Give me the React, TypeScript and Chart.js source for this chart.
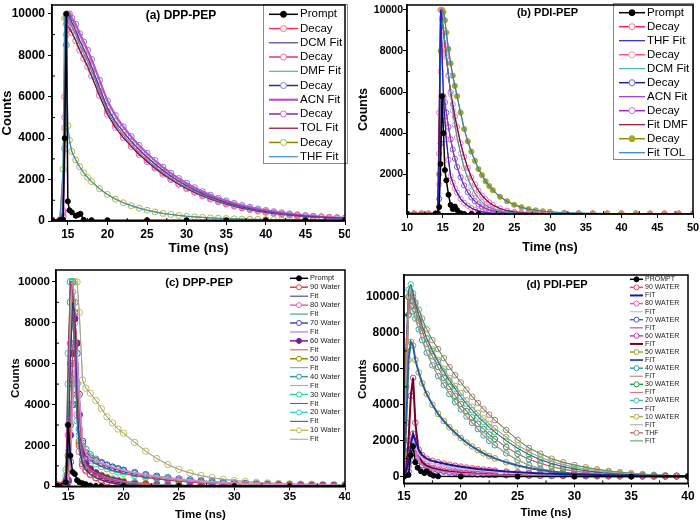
import React, { useEffect, useRef } from "react";
import { Chart, registerables } from "chart.js";

Chart.register(...registerables);
Chart.defaults.font.family = '"Liberation Sans", Arial, sans-serif';
Chart.defaults.color = "#000";

// ---------------- Panel (a) DPP-PEP, solvents ----------------
const timeA = [13, 14, 14.4, 14.6, 14.8, 15, 15.2, 15.5, 16, 16.5, 17, 17.5, 18, 19, 20, 21, 22, 23, 24, 25, 26, 27, 28, 29, 30, 31, 32, 33, 34, 35, 36, 37, 38, 39, 40, 41, 42, 43, 44, 45, 46, 47, 48, 49, 50];
const promptTimeA = [13, 14, 14.4, 14.6, 14.8, 15, 15.2, 15.5, 16, 16.3, 16.6, 17, 18, 20, 25, 30, 35, 40, 45, 50];
const promptA = [40, 40, 60, 4000, 10000, 950, 520, 420, 250, 300, 350, 60, 40, 40, 40, 40, 40, 40, 40, 40];
const dcmA = [50, 50, 300, 4500, 9000, 10000, 9900, 9600, 9200, 8700, 8300, 7900, 7450, 6450, 5450, 4800, 4300, 3850, 3450, 3080, 2750, 2450, 2170, 1920, 1700, 1500, 1320, 1160, 1020, 890, 780, 680, 600, 520, 460, 400, 350, 310, 270, 240, 210, 185, 165, 150, 135];
const dmfA = [50, 50, 500, 6000, 9800, 9900, 9700, 9400, 9000, 8500, 8100, 7700, 7250, 6250, 5300, 4650, 4150, 3700, 3300, 2950, 2620, 2330, 2060, 1820, 1610, 1420, 1250, 1100, 960, 840, 740, 650, 570, 500, 440, 385, 340, 300, 260, 230, 200, 180, 160, 145, 130];
const acnA = [50, 50, 200, 3500, 8500, 9900, 10000, 9800, 9500, 9050, 8650, 8250, 7800, 6800, 5800, 5100, 4550, 4080, 3650, 3270, 2920, 2600, 2310, 2050, 1820, 1610, 1420, 1250, 1100, 970, 850, 750, 660, 580, 510, 450, 395, 345, 300, 265, 235, 205, 180, 160, 145];
const tolA = [50, 50, 400, 5000, 9500, 9400, 9300, 9100, 8700, 8250, 7850, 7450, 7000, 6050, 5150, 4520, 4030, 3600, 3210, 2870, 2550, 2260, 2000, 1770, 1560, 1380, 1210, 1060, 930, 815, 715, 625, 550, 480, 420, 370, 325, 285, 250, 220, 195, 172, 152, 136, 122];
const thfA = [50, 50, 2500, 9800, 10000, 4600, 3900, 3350, 2950, 2620, 2330, 2100, 1900, 1560, 1280, 1060, 880, 740, 620, 520, 440, 370, 315, 270, 230, 200, 175, 152, 133, 117, 104, 93, 84, 77, 71, 66, 62, 58, 55, 52, 50, 48, 46, 44, 42];
const xTicksA = [15, 20, 25, 30, 35, 40, 45, 50];
const xMinorA = [17.5, 22.5, 27.5, 32.5, 37.5, 42.5, 47.5];
const yTicksA = [0, 2000, 4000, 6000, 8000, 10000];
const yMinorA = [1000, 3000, 5000, 7000, 9000];

// ---------------- Panel (b) PDI-PEP, solvents ----------------
const timeB = [10, 11, 12, 13, 14, 14.3, 14.5, 14.7, 14.9, 15.1, 15.3, 15.5, 15.8, 16.1, 16.4, 16.7, 17, 17.5, 18, 18.5, 19, 19.5, 20, 20.5, 21, 21.5, 22, 23, 24, 25, 26, 27, 28, 29, 30, 32, 34, 36, 38, 40, 42, 44, 46, 48, 50];
const promptTimeB = [10, 14, 14.3, 14.5, 14.7, 14.9, 15.1, 15.3, 15.5, 15.8, 16.1, 16.4, 16.7, 17, 17.5, 18, 19, 20];
const promptB = [80, 80, 80, 400, 2500, 5800, 4000, 2200, 1700, 1000, 500, 300, 420, 250, 100, 60, 60, 60];
const thfB = [80, 80, 80, 80, 80, 100, 3000, 10000, 8000, 5700, 4600, 3700, 2700, 1900, 1600, 1300, 1100, 800, 600, 460, 350, 270, 210, 165, 135, 115, 100, 90, 85, 82, 80, 80, 80, 80, 80, 80, 80, 80, 80, 80, 80, 80, 80, 80, 80];
const dcmB = [80, 80, 80, 80, 80, 100, 1500, 7000, 9500, 9000, 8400, 7800, 6800, 5900, 5100, 4400, 3800, 3000, 2300, 1800, 1400, 1080, 830, 640, 500, 390, 310, 200, 140, 110, 95, 88, 84, 82, 80, 80, 80, 80, 80, 80, 80, 80, 80, 80, 80];
const acnB = [80, 80, 80, 80, 80, 100, 800, 3500, 5600, 5800, 5500, 5000, 4300, 3700, 3200, 2750, 2350, 1850, 1450, 1120, 870, 680, 530, 420, 330, 260, 210, 150, 115, 95, 86, 82, 80, 80, 80, 80, 80, 80, 80, 80, 80, 80, 80, 80, 80];
const dmfB = [80, 80, 80, 80, 80, 150, 5000, 10000, 9600, 9000, 8300, 7700, 6800, 6000, 5400, 4800, 4300, 3500, 2850, 2300, 1850, 1500, 1200, 960, 770, 620, 500, 330, 220, 160, 125, 105, 95, 88, 85, 82, 80, 80, 80, 80, 80, 80, 80, 80, 80];
const tolB = [80, 80, 80, 80, 80, 100, 2000, 8000, 10000, 9900, 9500, 8900, 8100, 7400, 6800, 6300, 5800, 5000, 4200, 3600, 3100, 2650, 2250, 1950, 1650, 1420, 1220, 900, 680, 510, 390, 300, 240, 195, 160, 120, 100, 90, 85, 80, 80, 80, 80, 80, 80];
const xTicksB = [10, 15, 20, 25, 30, 35, 40, 45, 50];
const xMinorB = [12.5, 17.5, 22.5, 27.5, 32.5, 37.5, 42.5, 47.5];
const yTicksB = [2000, 4000, 6000, 8000, 10000];
const yMinorB = [1000, 3000, 5000, 7000, 9000];

// ---------------- Panel (c) DPP-PEP, water fractions ----------------
const timeC = [14, 14.5, 14.8, 15, 15.2, 15.4, 15.6, 15.8, 16, 16.3, 16.6, 17, 17.5, 18, 18.5, 19, 19.5, 20, 21, 22, 23, 24, 25, 26, 27, 28, 29, 30, 31, 32, 33, 34, 35, 36, 37, 38, 39, 40];
const promptTimeC = [14, 14.8, 15, 15.2, 15.4, 15.6, 15.8, 16, 16.3, 16.6, 17, 17.5, 18, 20, 25, 30, 35, 40];
const promptC = [30, 200, 3000, 1500, 700, 600, 300, 200, 150, 100, 40, 20, 10, 10, 10, 10, 10, 10];
const w90C = [40, 40, 200, 1500, 6000, 9000, 8500, 4500, 2000, 1100, 800, 600, 430, 310, 220, 160, 115, 85, 50, 30, 20, 20, 20, 20, 20, 20, 20, 20, 20, 20, 20, 20, 20, 20, 20, 20, 20, 20];
const w80C = [40, 40, 300, 2500, 7000, 8000, 7000, 3500, 1700, 1000, 750, 560, 400, 290, 210, 150, 110, 80, 45, 28, 20, 20, 20, 20, 20, 20, 20, 20, 20, 20, 20, 20, 20, 20, 20, 20, 20, 20];
const w70C = [40, 40, 50, 200, 1200, 4000, 6000, 6500, 4500, 2200, 1600, 1380, 1250, 1130, 1030, 940, 860, 790, 670, 570, 490, 420, 360, 310, 265, 225, 195, 165, 140, 120, 103, 88, 76, 65, 56, 49, 43, 38];
const w60C = [40, 40, 60, 300, 2500, 6500, 8200, 7000, 3500, 1600, 1100, 850, 650, 500, 390, 300, 240, 190, 120, 80, 55, 40, 30, 30, 30, 30, 30, 30, 30, 30, 30, 30, 30, 30, 30, 30, 30, 30];
const w50C = [40, 40, 100, 800, 3000, 5000, 5500, 4000, 2200, 1300, 1000, 820, 660, 540, 440, 360, 300, 250, 180, 130, 95, 70, 55, 45, 40, 40, 40, 40, 40, 40, 40, 40, 40, 40, 40, 40, 40, 40];
const w40C = [60, 60, 300, 3000, 9000, 10000, 9000, 5000, 2800, 2100, 1800, 1550, 1330, 1170, 1040, 930, 840, 760, 630, 520, 430, 355, 290, 240, 195, 160, 130, 105, 85, 70, 58, 48, 42, 37, 33, 30, 28, 26];
const w30C = [60, 60, 800, 6500, 10000, 9500, 6500, 3200, 2100, 1650, 1450, 1280, 1100, 970, 860, 770, 700, 630, 520, 430, 360, 300, 250, 205, 170, 140, 115, 95, 78, 65, 55, 47, 40, 35, 31, 28, 26, 25];
const w20C = [60, 60, 500, 5000, 10000, 10000, 8000, 4000, 2500, 1900, 1650, 1450, 1250, 1100, 980, 880, 800, 720, 600, 500, 420, 350, 290, 240, 200, 165, 135, 110, 90, 75, 62, 52, 45, 40, 35, 32, 30, 28];
const w10C = [80, 80, 150, 1000, 7000, 10000, 10000, 10000, 8500, 5200, 4800, 4550, 4200, 3800, 3400, 3100, 2800, 2600, 2150, 1720, 1360, 1060, 830, 650, 520, 420, 340, 280, 235, 195, 165, 140, 125, 110, 100, 90, 85, 80];
const xTicksC = [15, 20, 25, 30, 35, 40];
const xMinorC = [17.5, 22.5, 27.5, 32.5, 37.5];
const yTicksC = [0, 2000, 4000, 6000, 8000, 10000];
const yMinorC = [1000, 3000, 5000, 7000, 9000];

// ---------------- Panel (d) PDI-PEP, water fractions ----------------
const timeD = [15, 15.2, 15.4, 15.6, 15.8, 16, 16.3, 16.6, 17, 17.5, 18, 18.5, 19, 19.5, 20, 20.5, 21, 21.5, 22, 22.5, 23, 24, 25, 26, 27, 28, 29, 30, 31, 32, 33, 34, 35, 36, 37, 38, 39, 40];
const promptTimeD = [15, 15.4, 15.6, 15.8, 16, 16.2, 16.5, 16.8, 17, 17.3, 17.6, 18, 20, 25, 30, 35, 40];
const promptD = [0, 100, 1200, 1700, 800, 500, 300, 200, 300, 150, 60, 20, 10, 5, 5, 5, 5];
const w90D = [100, 300, 800, 1800, 2400, 2000, 1500, 1200, 1000, 880, 800, 730, 670, 610, 560, 510, 470, 430, 400, 370, 340, 290, 250, 215, 185, 160, 140, 120, 105, 92, 80, 70, 62, 55, 50, 45, 42, 40];
const w80D = [80, 200, 600, 1500, 2100, 1700, 1250, 1000, 850, 740, 660, 600, 550, 500, 460, 420, 385, 355, 325, 300, 275, 235, 200, 170, 145, 125, 108, 93, 80, 70, 62, 55, 49, 44, 40, 37, 35, 33];
const w70D = [50, 100, 300, 900, 1500, 1300, 900, 650, 500, 400, 330, 280, 240, 210, 185, 165, 150, 135, 120, 110, 100, 85, 72, 62, 54, 48, 42, 38, 34, 31, 28, 26, 24, 22, 21, 20, 19, 18];
const w60D = [100, 500, 2000, 4500, 5500, 3000, 1300, 800, 600, 470, 390, 330, 285, 250, 220, 195, 175, 155, 140, 125, 113, 92, 76, 63, 53, 45, 39, 34, 30, 27, 25, 23, 21, 20, 19, 18, 17, 16];
const w50D = [500, 3000, 6500, 7500, 7300, 6500, 5800, 5200, 4600, 4000, 3500, 3100, 2750, 2450, 2150, 1900, 1680, 1480, 1300, 1150, 1020, 800, 620, 480, 370, 285, 220, 170, 130, 100, 78, 60, 47, 37, 30, 25, 22, 20];
const w40D = [1500, 6000, 9000, 9500, 9200, 8800, 8200, 7600, 6900, 6200, 5600, 5100, 4600, 4150, 3750, 3350, 3000, 2650, 2300, 2000, 1750, 1300, 920, 650, 450, 310, 210, 145, 100, 70, 50, 38, 30, 25, 22, 20, 18, 16];
const w30D = [2000, 7000, 10000, 10200, 9800, 9300, 8700, 8100, 7400, 6700, 6100, 5500, 5000, 4500, 4050, 3650, 3300, 2950, 2650, 2350, 2100, 1650, 1270, 970, 740, 560, 420, 310, 230, 170, 125, 92, 68, 52, 42, 35, 30, 27];
const w20D = [2500, 7500, 10400, 10700, 10200, 9600, 9000, 8400, 7700, 7000, 6400, 5850, 5350, 4900, 4450, 4050, 3700, 3350, 3050, 2750, 2480, 2000, 1580, 1230, 950, 730, 560, 430, 330, 250, 190, 145, 110, 85, 68, 55, 45, 38];
const w10D = [2000, 7000, 10000, 10300, 9700, 9300, 8800, 8300, 7700, 7100, 6500, 6000, 5500, 5050, 4650, 4250, 3900, 3550, 3250, 2950, 2700, 2200, 1750, 1380, 1080, 850, 670, 530, 420, 330, 260, 200, 155, 120, 90, 70, 55, 45];
const thfD = [1000, 5000, 9000, 10300, 10000, 9700, 9300, 8800, 8200, 7600, 7100, 6600, 6100, 5650, 5250, 4850, 4450, 4100, 3750, 3450, 3150, 2600, 2050, 1600, 1280, 1000, 800, 650, 520, 410, 320, 250, 190, 140, 105, 80, 60, 45];
const xTicksD = [15, 20, 25, 30, 35, 40];
const xMinorD = [17.5, 22.5, 27.5, 32.5, 37.5];
const yTicksD = [0, 2000, 4000, 6000, 8000, 10000];
const yMinorD = [1000, 3000, 5000, 7000, 9000];

// ---------------- helpers ----------------
const pts = (t: number[], v: number[]) => t.map((x, i) => ({ x, y: v[i] }));

function prompt(label: string, t: number[], v: number[], r: number) {
  return {
    label, kind: "filled", data: pts(t, v), borderColor: "#000", borderWidth: 1.5,
    pointRadius: r, pointBorderColor: "#000", pointBackgroundColor: "#000", pointBorderWidth: 1, order: 0,
  };
}
function decay(label: string, t: number[], v: number[], line: string, mark: string, r: number, filled = false) {
  return {
    label, kind: filled ? "filled" : "decay", data: pts(t, v), borderColor: line, borderWidth: 1,
    pointRadius: r, pointBorderColor: mark, pointBackgroundColor: filled ? mark : "rgba(255,255,255,0)",
    pointBorderWidth: 1, order: 2,
  };
}
function fit(label: string, t: number[], v: number[], color: string, w: number) {
  return { label, kind: "fit", data: pts(t, v), borderColor: color, borderWidth: w, pointRadius: 0, order: 1 };
}

const decorPlugin = {
  id: "decor",
  afterDraw(chart: any, _args: any, opts: any) {
    const { ctx, chartArea: a } = chart;
    const xs = chart.scales.x;
    const ys = chart.scales.y;
    ctx.save();
    // inward minor ticks
    ctx.strokeStyle = "#000";
    ctx.lineWidth = 1;
    ctx.beginPath();
    for (const v of opts.minorX) {
      const p = xs.getPixelForValue(v);
      ctx.moveTo(p, a.bottom);
      ctx.lineTo(p, a.bottom - 3);
    }
    for (const v of opts.minorY) {
      const p = ys.getPixelForValue(v);
      ctx.moveTo(a.left, p);
      ctx.lineTo(a.left + 3, p);
    }
    ctx.stroke();
    // legend
    const L = opts.legend;
    if (L.box) {
      const [bx, by, bw, bh] = L.box;
      ctx.fillStyle = "#fff";
      ctx.fillRect(bx, by, bw, bh);
      ctx.strokeStyle = "#8a8a8a";
      ctx.lineWidth = 1;
      ctx.strokeRect(bx + 0.5, by + 0.5, bw, bh);
    }
    ctx.font = L.font;
    ctx.textBaseline = "middle";
    ctx.textAlign = "left";
    chart.data.datasets.forEach((ds: any, i: number) => {
      const y = L.y0 + i * L.dy;
      ctx.strokeStyle = ds.borderColor;
      ctx.lineWidth = ds.kind === "fit" ? ds.borderWidth : 1.5;
      ctx.beginPath();
      ctx.moveTo(L.x1, y);
      ctx.lineTo(L.x2, y);
      ctx.stroke();
      if (ds.kind !== "fit") {
        const cx = (L.x1 + L.x2) / 2;
        ctx.beginPath();
        ctx.arc(cx, y, L.r, 0, Math.PI * 2);
        ctx.fillStyle = ds.kind === "filled" ? ds.pointBackgroundColor : "#fff";
        ctx.fill();
        ctx.lineWidth = 1;
        ctx.strokeStyle = ds.pointBorderColor;
        ctx.stroke();
      }
      ctx.fillStyle = L.color || "#000";
      ctx.fillText(ds.label, L.tx, y);
    });
    // frame
    ctx.strokeStyle = "#000";
    ctx.lineWidth = 1.5;
    ctx.strokeRect(a.left, a.top, a.right - a.left, a.bottom - a.top);
    // panel title
    ctx.font = opts.titleFont;
    ctx.textAlign = "center";
    ctx.textBaseline = "middle";
    ctx.fillStyle = "#000";
    ctx.fillText(opts.title, opts.titleX, opts.titleY);
    ctx.restore();
  },
};

function makeConfig(p: any) {
  return {
    type: "line",
    data: { datasets: p.datasets },
    options: {
      responsive: false,
      animation: false,
      events: [],
      layout: { padding: p.padding },
      plugins: { legend: { display: false }, tooltip: { enabled: false }, decor: p.decor },
      scales: {
        x: {
          type: "linear",
          min: p.x.min,
          max: p.x.max,
          afterBuildTicks: (s: any) => { s.ticks = p.x.ticks.map((v: number) => ({ value: v })); },
          afterFit: (s: any) => { s.height = p.x.size; s.paddingLeft = 0; s.paddingRight = 0; },
          grid: { drawOnChartArea: false, tickLength: 4, tickColor: "#000", tickWidth: 1 },
          border: { color: "#000", width: 1.5 },
          ticks: {
            autoSkip: false, maxRotation: 0, minRotation: 0, padding: p.x.pad, color: "#000",
            font: { size: p.x.font, weight: "bold" }, callback: (v: any) => String(v),
          },
          title: {
            display: true, text: "Time (ns)", color: "#000",
            font: { size: p.x.title, weight: "bold" }, padding: { top: 0, bottom: 0 },
          },
        },
        y: {
          type: "linear",
          min: p.y.min,
          max: p.y.max,
          afterBuildTicks: (s: any) => { s.ticks = p.y.ticks.map((v: number) => ({ value: v })); },
          afterFit: (s: any) => { s.width = p.y.size; s.paddingTop = 0; s.paddingBottom = 0; },
          grid: { drawOnChartArea: false, tickLength: 4, tickColor: "#000", tickWidth: 1 },
          border: { color: "#000", width: 1.5 },
          ticks: {
            autoSkip: false, padding: p.y.pad, color: "#000",
            font: { size: p.y.font, weight: "bold" }, callback: (v: any) => String(v),
          },
          title: {
            display: true, text: "Counts", color: "#000",
            font: { size: p.y.title, weight: "bold" }, padding: { top: 0, bottom: 0 },
          },
        },
      },
    },
    plugins: [decorPlugin],
  };
}

const FONT = '"Liberation Sans", Arial, sans-serif';

const panelA = () => makeConfig({
  datasets: [
    prompt("Prompt", promptTimeA, promptA, 2.5),
    decay("Decay", timeA, dcmA, "#ff2a55", "#ff6f94", 3),
    fit("DCM Fit", timeA, dcmA, "#4a3fa0", 1.2),
    decay("Decay", timeA, dmfA, "#e8307a", "#f06aa6", 3),
    fit("DMF Fit", timeA, dmfA, "#2aa5a5", 1),
    decay("Decay", timeA, acnA, "#2b2f8f", "#7b7fcf", 3),
    fit("ACN Fit", timeA, acnA, "#b455d0", 2.2),
    decay("Decay", timeA, tolA, "#9a1fb8", "#c070d8", 3),
    fit("TOL Fit", timeA, tolA, "#8c0d3a", 1.2),
    decay("Decay", timeA, thfA, "#8a8a00", "#b5b540", 3),
    fit("THF Fit", timeA, thfA, "#3b8fc0", 1.2),
  ],
  padding: { left: 0, right: 3, top: 1, bottom: 4 },
  x: { min: 13, max: 50, ticks: xTicksA, size: 35, pad: 2, font: 12, title: 13.5 },
  y: { min: 0, max: 10430, ticks: yTicksA, size: 52, pad: 3, font: 12, title: 13 },
  decor: {
    minorX: xMinorA, minorY: yMinorA,
    title: "(a) DPP-PEP", titleX: 181, titleY: 16, titleFont: `bold 12px ${FONT}`,
    legend: { box: [263, 4, 84, 159], x1: 269, x2: 298, tx: 300, y0: 14.3, dy: 14.24, r: 3, font: `11.5px ${FONT}` },
  },
});

const panelB = () => makeConfig({
  datasets: [
    prompt("Prompt", promptTimeB, promptB, 2.5),
    decay("Decay", timeB, thfB, "#ff2050", "#ff6f90", 2.6),
    fit("THF Fit", timeB, thfB, "#2020c8", 1.2),
    decay("Decay", timeB, dcmB, "#ff4f8a", "#ff8fb5", 2.6),
    fit("DCM Fit", timeB, dcmB, "#1fa0a8", 1),
    decay("Decay", timeB, acnB, "#23238a", "#6a6ac8", 2.6),
    fit("ACN Fit", timeB, acnB, "#9b2fc8", 1.2),
    decay("Decay", timeB, dmfB, "#a02ac0", "#c77ade", 2.6),
    fit("Fit DMF", timeB, dmfB, "#8a0a30", 1.2),
    decay("Decay", timeB, tolB, "#8c8c00", "#a8a820", 2.6, true),
    fit("Fit TOL", timeB, tolB, "#2f7fbf", 1.2),
  ],
  padding: { left: 6.5, right: 7, top: 1, bottom: 4.5 },
  x: { min: 10, max: 50, ticks: xTicksB, size: 41.5, pad: 3.7, font: 11, title: 12.5 },
  y: { min: 60, max: 10240, ticks: yTicksB, size: 50.5, pad: 0, font: 10.5, title: 12.5 },
  decor: {
    minorX: xMinorB, minorY: yMinorB,
    title: "(b) PDI-PEP", titleX: 197.5, titleY: 12.7, titleFont: `bold 11px ${FONT}`,
    legend: { box: [263, 3, 80, 156], x1: 269, x2: 295, tx: 297, y0: 12.7, dy: 14.0, r: 3, font: `11.5px ${FONT}` },
  },
});

const panelC = () => makeConfig({
  datasets: [
    prompt("Prompt", promptTimeC, promptC, 2.5),
    decay("90 Water", timeC, w90C, "#e8403c", "#e8403c", 3.2),
    fit("Fit", timeC, w90C, "#2e2e8e", 1),
    decay("80 Water", timeC, w80C, "#e066b8", "#e066b8", 3.2),
    fit("Fit", timeC, w80C, "#2a9080", 1),
    decay("70 Water", timeC, w70C, "#4a4ab8", "#4a4ab8", 3.2),
    fit("Fit", timeC, w70C, "#d88ad8", 1.5),
    decay("60 Water", timeC, w60C, "#7a1a9a", "#7a1a9a", 3.2, true),
    fit("Fit", timeC, w60C, "#c05050", 1),
    decay("50 Water", timeC, w50C, "#8e8e00", "#8e8e00", 3.2),
    fit("Fit", timeC, w50C, "#6a9ac0", 1),
    decay("40 Water", timeC, w40C, "#30a0a0", "#30a0a0", 3.2),
    fit("Fit", timeC, w40C, "#c8a070", 1),
    decay("30 Water", timeC, w30C, "#28d8a0", "#28d8a0", 3.2),
    fit("Fit", timeC, w30C, "#c02878", 1),
    decay("20 Water", timeC, w20C, "#38d0c8", "#38d0c8", 3.2),
    fit("Fit", timeC, w20C, "#40409a", 1),
    decay("10 Water", timeC, w10C, "#c0c050", "#c0c050", 3.2),
    fit("Fit", timeC, w10C, "#a0a0a0", 1),
  ],
  padding: { left: 8.8, right: 5, top: 10, bottom: 0.1 },
  x: { min: 13.9, max: 40, ticks: xTicksC, size: 35.6, pad: 0, font: 11.5, title: 11.5 },
  y: { min: 0, max: 10580, ticks: yTicksC, size: 47.2, pad: 2, font: 11.5, title: 11.5 },
  decor: {
    minorX: xMinorC, minorY: yMinorC,
    title: "(c) DPP-PEP", titleX: 199, titleY: 23.3, titleFont: `bold 11.5px ${FONT}`,
    legend: { box: null, x1: 290, x2: 308, tx: 310, y0: 18.3, dy: 8.94, r: 2.5, font: `7.5px ${FONT}`, color: "#222" },
  },
});

const panelD = () => makeConfig({
  datasets: [
    prompt("PROMPT", promptTimeD, promptD, 2.5),
    decay("90 WATER", timeD, w90D, "#e84a6a", "#e84a6a", 2.8),
    fit("FIT", timeD, w90D, "#1a1aa0", 2),
    decay("80 WATER", timeD, w80D, "#e060a8", "#e060a8", 2.8),
    fit("FIT", timeD, w80D, "#c8c8ee", 1.5),
    decay("70 WATER", timeD, w70D, "#5a5ab8", "#5a5ab8", 2.8),
    fit("FIT", timeD, w70D, "#d070d0", 1.5),
    decay("60 WATER", timeD, w60D, "#c040b8", "#c040b8", 2.8),
    fit("FIT", timeD, w60D, "#7a0020", 2),
    decay("50 WATER", timeD, w50D, "#a0a030", "#a0a030", 2.8),
    fit("FIT", timeD, w50D, "#2a60a0", 2),
    decay("40 WATER", timeD, w40D, "#30a0a8", "#30a0a8", 2.8),
    fit("FIT", timeD, w40D, "#c09080", 1.2),
    decay("30 WATER", timeD, w30D, "#20a048", "#20a048", 2.8),
    fit("FIT", timeD, w30D, "#e06080", 1),
    decay("20 WATER", timeD, w20D, "#40c0a0", "#40c0a0", 2.8),
    fit("FIT", timeD, w20D, "#50508a", 1),
    decay("10 WATER", timeD, w10D, "#b0b040", "#b0b040", 2.8),
    fit("FIT", timeD, w10D, "#a8a8a8", 1),
    decay("THF", timeD, thfD, "#c07878", "#c07878", 2.8),
    fit("FIT", timeD, thfD, "#40a060", 1),
  ],
  padding: { left: 6.4, right: 12, top: 15, bottom: 2.1 },
  x: { min: 15, max: 40, ticks: xTicksD, size: 36.6, pad: 2.2, font: 12, title: 11.5 },
  y: { min: -367, max: 11224, ticks: yTicksD, size: 47.6, pad: 0.7, font: 12, title: 11.5 },
  decor: {
    minorX: xMinorD, minorY: yMinorD,
    title: "(d) PDI-PEP", titleX: 207, titleY: 25, titleFont: `bold 11px ${FONT}`,
    legend: { box: null, x1: 280, x2: 293, tx: 295, y0: 19.3, dy: 8.08, r: 2.5, font: `7px ${FONT}`, color: "#222" },
  },
});

function Panel(props: { make: () => any; left: number; top: number; width: number; height: number }) {
  const ref = useRef<HTMLCanvasElement | null>(null);
  useEffect(() => {
    const chart = new Chart(ref.current as HTMLCanvasElement, props.make());
    return () => chart.destroy();
  }, []);
  return (
    <canvas
      ref={ref}
      width={props.width}
      height={props.height}
      style={{ position: "absolute", left: props.left, top: props.top, width: props.width, height: props.height }}
    />
  );
}

export default function App() {
  return (
    <div style={{ position: "fixed", left: 0, top: 0, width: 700, height: 522, background: "#fff", overflow: "hidden" }}>
      <Panel make={panelA} left={0} top={0} width={350} height={260} />
      <Panel make={panelB} left={350} top={0} width={350} height={260} />
      <Panel make={panelC} left={0} top={260} width={350} height={262} />
      <Panel make={panelD} left={350} top={260} width={350} height={262} />
    </div>
  );
}
